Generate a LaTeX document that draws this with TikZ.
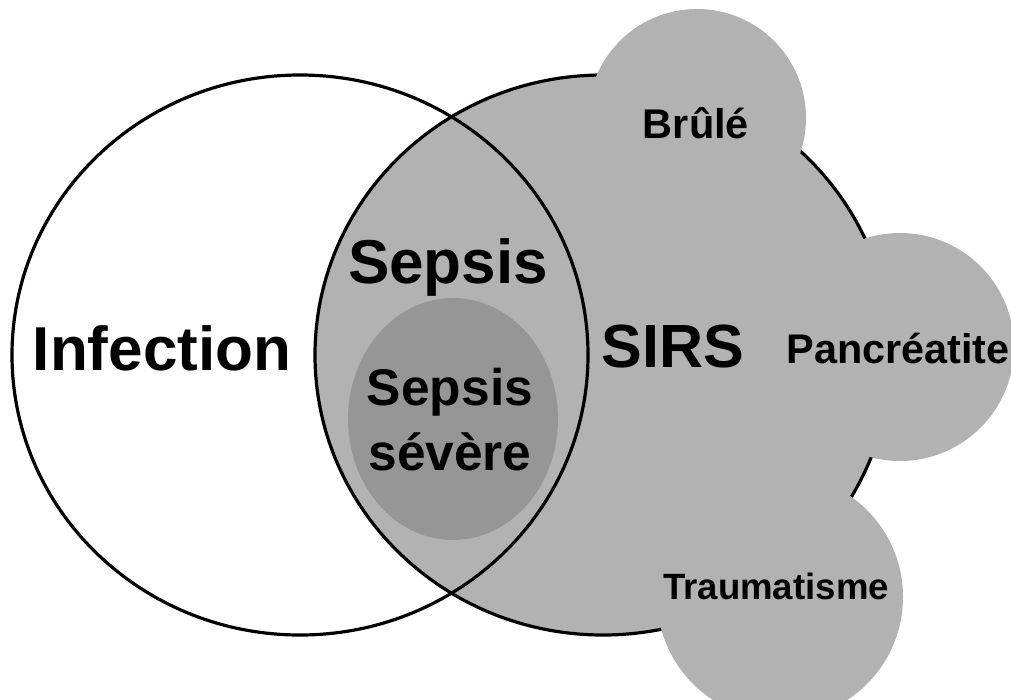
\documentclass[tikz,border=0pt]{standalone}
\usepackage{fontspec}
\setmainfont{Liberation Sans}
\usetikzlibrary{shapes.geometric}
\definecolor{sirsgray}{gray}{0.70}
\definecolor{sevgray}{gray}{0.59}
\tikzset{
  outline/.style={draw, line width=3.2pt},
  blob/.style={circle, fill=sirsgray, inner sep=0pt, outer sep=0pt},
  tag/.style={font=\bfseries, anchor=base, inner sep=0pt}
}
\begin{document}
\begin{tikzpicture}[x=1pt, y=-1pt]
  \useasboundingbox (0,0) rectangle (1011,699);
  % Sets
  \node[ellipse, outline, fill=sirsgray, inner sep=0pt, minimum width=576pt, minimum height=560pt] (sirs) at (603,355) {};
  \node[blob, minimum size=218pt] (burn) at (697,118) {};
  \node[blob, minimum size=228pt] (panc) at (900,347) {};
  \node[blob, minimum size=246pt] (trauma) at (780,597) {};
  \node[ellipse, outline, inner sep=0pt, minimum width=576pt, minimum height=560pt] (infect) at (300,355) {};
  \node[ellipse, fill=sevgray, inner sep=0pt, minimum width=210pt, minimum height=242pt] (severe) at (453,419) {};

  % Labels
  \node[tag, font=\bfseries\fontsize{62}{62}\selectfont] (tinf) at (162,370) {Infection};
  \node[tag, font=\bfseries\fontsize{62}{62}\selectfont] (tsep) at (448,283) {Sepsis};
  \node[tag, font=\bfseries\fontsize{61}{61}\selectfont] (tsirs) at (673,367) {SIRS};
  \node[tag, font=\bfseries\fontsize{51.5}{65}\selectfont, align=center] (tsev) at (450,470) {Sepsis\\sévère};
  \node[tag, font=\bfseries\fontsize{41.5}{41.5}\selectfont] (tburn) at (696,138) {Brûlé};
  \node[tag, font=\bfseries\fontsize{41.4}{41.4}\selectfont] (tpanc) at (898,363) {Pancréatite};
  \node[tag, font=\bfseries\fontsize{36.6}{36.6}\selectfont] (ttrauma) at (776,599) {Traumatisme};
\end{tikzpicture}
\end{document}
